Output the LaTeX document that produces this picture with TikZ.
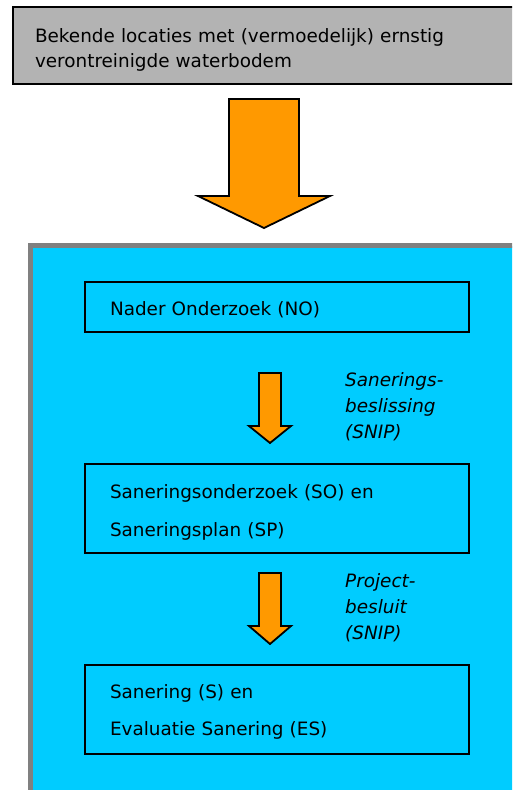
\documentclass[tikz,border=0pt]{standalone}
\usepackage{fontspec}
\setmainfont{DejaVu Sans}
\usetikzlibrary{calc}
\definecolor{cyanfill}{HTML}{00CCFF}
\definecolor{orangefill}{HTML}{FF9900}
\definecolor{grayfill}{HTML}{B3B3B3}
\definecolor{frameborder}{HTML}{808080}
\tikzset{
  stagebox/.style={draw=black, line width=1.8pt, minimum width=384pt, inner sep=0pt},
  boxtext/.style={inner sep=0pt, text width=334pt, align=left, font=\fontsize{18.4}{25}\selectfont},
  blockarrow/.style={draw=black, line width=1.8pt, fill=orangefill, line join=miter},
  decision/.style={inner sep=0pt, align=left, font=\fontsize{18.4}{26}\selectfont\itshape, anchor=north west}
}
\newcommand{\blkarrow}[6]{% x, ytop, shafthalf, headhalf, ybase, ytip
  \draw[blockarrow] (#1-#3,#2) -- (#1+#3,#2) -- (#1+#3,#5) -- (#1+#4,#5) -- (#1,#6) -- (#1-#4,#5) -- (#1-#3,#5) -- cycle;
}
\begin{document}
\begin{tikzpicture}[x=1pt,y=-1pt]
\useasboundingbox (0,0) rectangle (512,790);
\clip (0,0) rectangle (512,790);
% top box
\node[draw=black, line width=1.8pt, fill=grayfill, minimum width=502pt, minimum height=77pt, inner sep=0pt] (top) at (264,45.5) {};
\node[boxtext, text width=458pt] (toptext) at ($(top.center)+(0,4)$) {Bekende locaties met (vermoedelijk) ernstig\\verontreinigde waterbodem};
% big arrow
\blkarrow{264}{99}{35}{66}{196}{228}
% frame
\draw[frameborder, line width=5pt, fill=cyanfill] (30.5,245.5) rectangle (530,810);
% stage boxes
\node[stagebox, minimum height=50pt] (no) at (277,307) {};
\node[boxtext] (notext) at ($(no.center)+(0,3)$) {Nader Onderzoek (NO)};
\node[stagebox, minimum height=89pt] (so) at (277,508.5) {};
\node[boxtext, font=\fontsize{18.4}{38}\selectfont] (sotext) at ($(so.center)+(0,3.5)$) {Saneringsonderzoek (SO) en\\Saneringsplan (SP)};
\node[stagebox, minimum height=89pt] (s) at (277,709.5) {};
\node[boxtext, font=\fontsize{18.4}{37}\selectfont] (stext) at ($(s.center)+(0,2)$) {Sanering (S) en\\Evaluatie Sanering (ES)};
% small arrows
\blkarrow{270}{373}{11}{21}{426}{443}
\blkarrow{270}{573}{11}{21}{626}{644}
% labels
\node[decision] (l1) at (345,372) {Sanerings-\\beslissing\\(SNIP)};
\node[decision] (l2) at (345,573) {Project-\\besluit\\(SNIP)};
\end{tikzpicture}
\end{document}
